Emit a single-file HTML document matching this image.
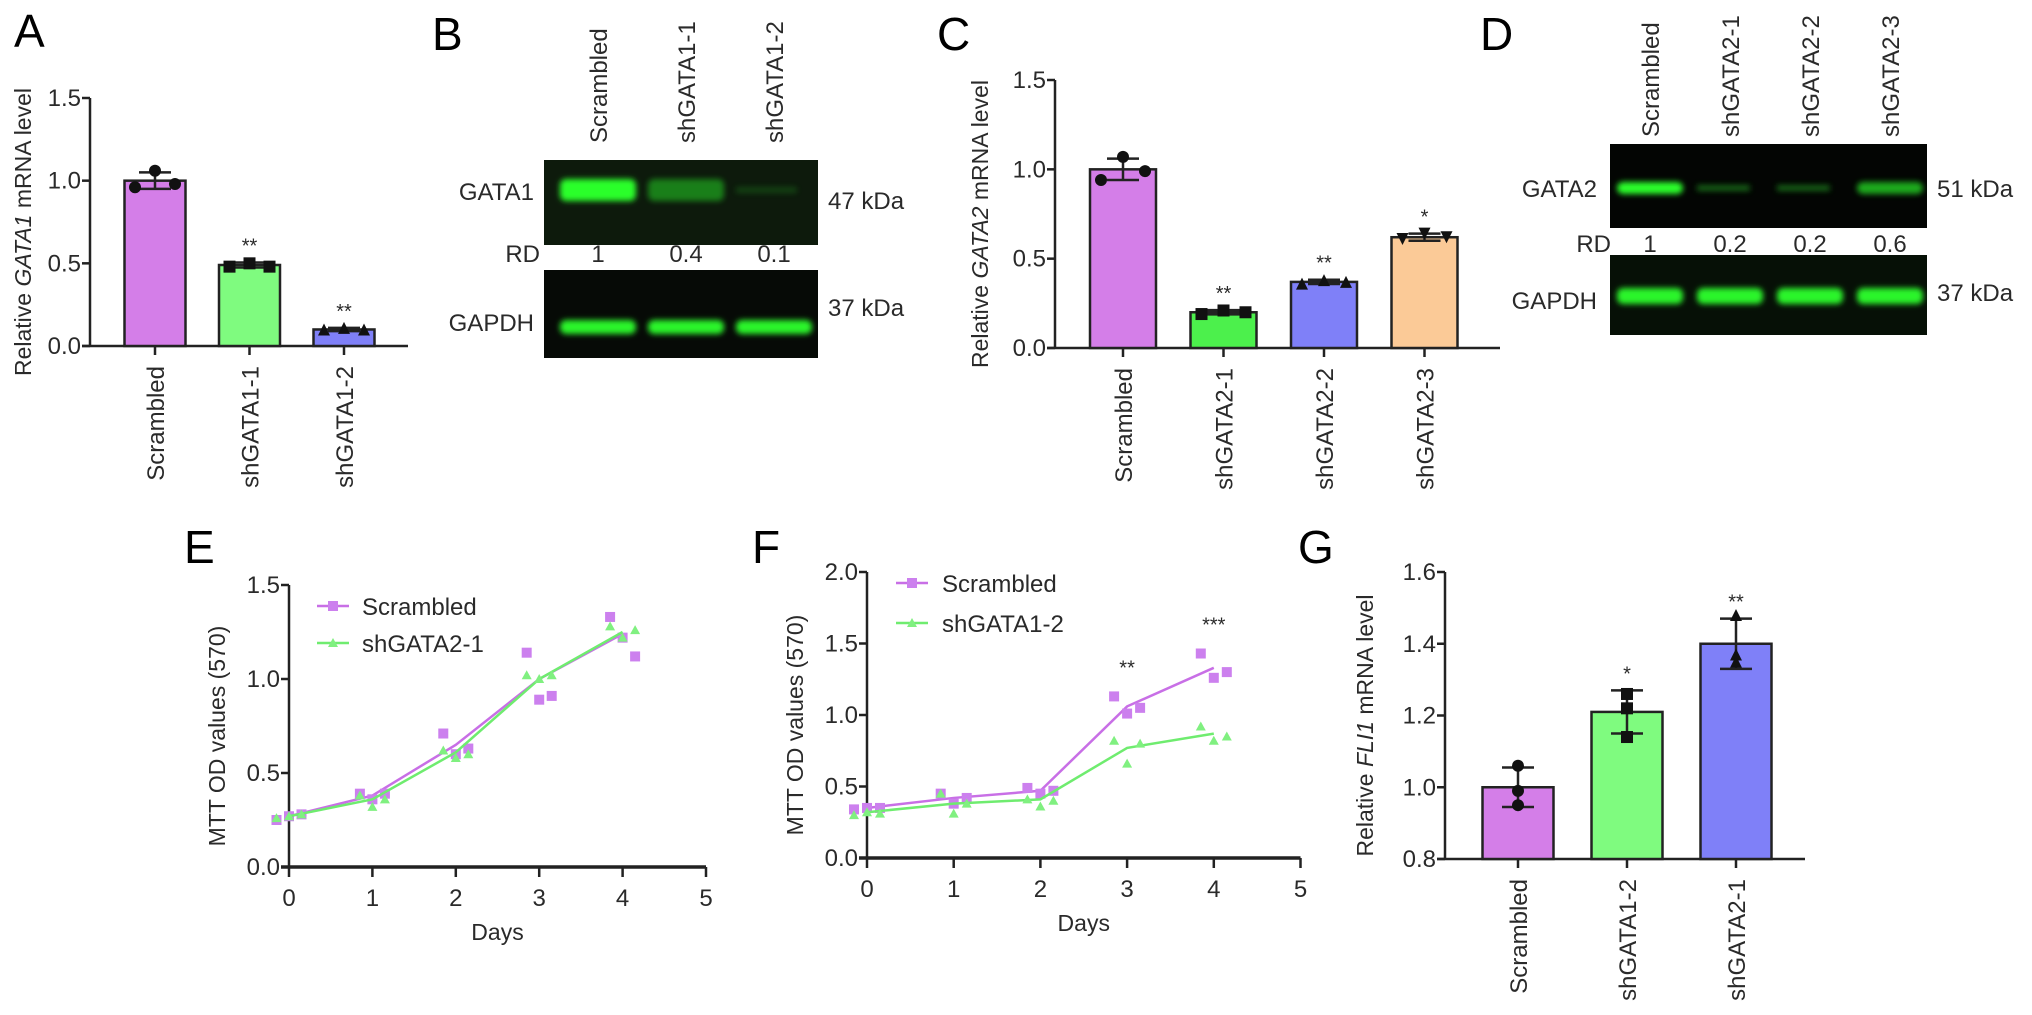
<!DOCTYPE html>
<html><head><meta charset="utf-8"><style>
html,body{margin:0;padding:0;background:#fff;}
svg{display:block;font-family:"Liberation Sans",Arial,sans-serif;}
</style></head><body>
<svg id="fig" width="2032" height="1015" viewBox="0 0 2032 1015" xmlns="http://www.w3.org/2000/svg">
<defs>
<filter id="blur2" x="-20%" y="-100%" width="140%" height="300%"><feGaussianBlur stdDeviation="3"/></filter>
</defs>
<g id="root"></g>
</svg>
<script>
// ===== Panel A data =====
const A_categories = ["Scrambled","shGATA1-1","shGATA1-2"];
const A_values = [1.0, 0.49, 0.10];
const A_errors = [0.05, 0.015, 0.01];
const A_points = [[0.96,1.06,0.98],[0.48,0.50,0.48],[0.10,0.11,0.10]];
const A_stars = ["","**","**"];
const A_ticks = [0.0,0.5,1.0,1.5];
const A_tickLabels = ["0.0","0.5","1.0","1.5"];
// ===== Panel C data =====
const C_categories = ["Scrambled","shGATA2-1","shGATA2-2","shGATA2-3"];
const C_values = [1.0, 0.20, 0.37, 0.62];
const C_errors = [0.06, 0.012, 0.012, 0.02];
const C_points = [[0.94,1.07,0.99],[0.19,0.21,0.20],[0.36,0.38,0.37],[0.61,0.64,0.62]];
const C_stars = ["","**","**","*"];
const C_ticks = [0.0,0.5,1.0,1.5];
const C_tickLabels = ["0.0","0.5","1.0","1.5"];
// ===== Panel G data =====
const G_categories = ["Scrambled","shGATA1-2","shGATA2-1"];
const G_values = [1.0, 1.21, 1.40];
const G_errors = [0.055, 0.06, 0.07];
const G_points = [[1.06,0.99,0.95],[1.26,1.22,1.14],[1.48,1.37,1.35]];
const G_stars = ["","*","**"];
const G_ticks = [0.8,1.0,1.2,1.4,1.6];
const G_tickLabels = ["0.8","1.0","1.2","1.4","1.6"];
// ===== Panel E data =====
const E_days = [0,1,2,3,4];
const E_scrMeans = [0.27,0.38,0.65,1.00,1.24];
const E_scrPoints = [[0.25,0.27,0.28],[0.39,0.36,0.39],[0.71,0.60,0.63],[1.14,0.89,0.91],[1.33,1.22,1.12]];
const E_shMeans = [0.27,0.36,0.61,1.00,1.25];
const E_shPoints = [[0.26,0.27,0.28],[0.38,0.32,0.36],[0.62,0.58,0.60],[1.02,1.00,1.02],[1.28,1.22,1.26]];
const E_xTicks = [0,1,2,3,4,5];
const E_yTicks = [0.0,0.5,1.0,1.5];
const E_yTickLabels = ["0.0","0.5","1.0","1.5"];
// ===== Panel F data =====
const F_days = [0,1,2,3,4];
const F_scrMeans = [0.35,0.42,0.47,1.06,1.33];
const F_scrPoints = [[0.34,0.35,0.35],[0.45,0.38,0.42],[0.49,0.45,0.47],[1.13,1.01,1.05],[1.43,1.26,1.30]];
const F_shMeans = [0.32,0.38,0.41,0.77,0.87];
const F_shPoints = [[0.30,0.32,0.31],[0.45,0.31,0.38],[0.41,0.36,0.40],[0.82,0.66,0.80],[0.92,0.82,0.85]];
const F_stars = ["","","","**","***"];
const F_xTicks = [0,1,2,3,4,5];
const F_yTicks = [0.0,0.5,1.0,1.5,2.0];
const F_yTickLabels = ["0.0","0.5","1.0","1.5","2.0"];
// ===== Blot data =====
const B_lanes = ["Scrambled","shGATA1-1","shGATA1-2"];
const B_rd = ["1","0.4","0.1"];
const B_bandTop = [1.0,0.4,0.1];
const D_lanes = ["Scrambled","shGATA2-1","shGATA2-2","shGATA2-3"];
const D_rd = ["1","0.2","0.2","0.6"];
const D_bandTop = [1.0,0.2,0.2,0.6];

const NS="http://www.w3.org/2000/svg";
const root=document.getElementById('root');
const TXT='#2a2a2a';
function mk(tag,attrs,parent,text){const e=document.createElementNS(NS,tag);for(const k in attrs)e.setAttribute(k,attrs[k]);if(text!==undefined)e.textContent=text;(parent||root).appendChild(e);return e;}
function grp(name,parent){const g=mk('g',{},parent);


return g;}
function label(t,x,y){const e=mk('text',{x:x,y:y,'font-size':46,fill:'#000'},root,t);


return e;}

function barChart(o){
  const g=grp(o.name);
  const ys=v=>o.y0-(v-o.min)/(o.max-o.min)*(o.y0-o.yTop);
  const xs=i=>o.first+i*o.step;
  const axis=grp(o.name+'-axes',g);
  mk('line',{x1:o.axisX,y1:o.yTop,x2:o.axisX,y2:o.y0,stroke:'#222','stroke-width':2.5},axis);
  mk('line',{x1:o.axisX-8,y1:o.y0,x2:o.axisEnd,y2:o.y0,stroke:'#222','stroke-width':2.5},axis);
  o.ticks.forEach((t,k)=>{const y=ys(t);
    mk('line',{x1:o.axisX-8,y1:y,x2:o.axisX,y2:y,stroke:'#222','stroke-width':2.5},axis);
    const tl=mk('text',{x:o.axisX-9,y:y+8,'font-size':24,'text-anchor':'end',fill:TXT},axis,o.tickLabels[k]);
    
    
  });
  const yt=mk('text',{transform:`translate(${o.titleX+8},${(o.yTop+o.y0)/2+10}) rotate(-90)`,'font-size':23,'text-anchor':'middle',fill:TXT},g);
  
  
  mk('tspan',{},yt,'Relative ');mk('tspan',{'font-style':'italic'},yt,o.gene);mk('tspan',{},yt,' mRNA level');
  o.cats.forEach((c,i)=>{
    const cx=xs(i),top=ys(o.vals[i]);
    const b=mk('rect',{x:cx-o.bw/2,y:top,width:o.bw,height:o.y0-top,fill:o.colors[i],stroke:'#222','stroke-width':2.5},g);
    
    
    const e1=ys(o.vals[i]+o.errs[i]),e2=ys(o.vals[i]-o.errs[i]);
    mk('line',{x1:cx,y1:e1,x2:cx,y2:e2,stroke:'#222','stroke-width':2.5},g);
    mk('line',{x1:cx-16,y1:e1,x2:cx+16,y2:e1,stroke:'#222','stroke-width':2.5},g);
    mk('line',{x1:cx-16,y1:e2,x2:cx+16,y2:e2,stroke:'#222','stroke-width':2.5},g);
    o.pts[i].forEach((p,j)=>{const px=cx+(j-1)*o.spread,py=ys(p);
      let m;const r=6;
      if(o.shapes[i]==='c') m=mk('circle',{cx:px,cy:py,r:r,fill:'#111'},g);
      else if(o.shapes[i]==='s') m=mk('rect',{x:px-r,y:py-r,width:2*r,height:2*r,fill:'#111'},g);
      else if(o.shapes[i]==='v') m=mk('path',{d:`M${px-r},${py-r}L${px+r},${py-r}L${px},${py+r}Z`,fill:'#111'},g);
      else m=mk('path',{d:`M${px-r},${py+r}L${px+r},${py+r}L${px},${py-r}Z`,fill:'#111'},g);
      
      
    });
    if(o.stars[i]){const s=mk('text',{x:cx,y:e1-10,'font-size':20,'text-anchor':'middle',fill:TXT},g,o.stars[i]);
      
      }
    mk('line',{x1:cx,y1:o.y0,x2:cx,y2:o.y0+9,stroke:'#222','stroke-width':2.5},g);
    const xl=mk('text',{transform:`translate(${cx+9},${o.y0+20}) rotate(-90)`,'font-size':24,'text-anchor':'end',fill:TXT},g,c);
    
    
  });
}

barChart({name:'chart-a',axisX:90,axisEnd:408,yTop:98,y0:346,min:0,max:1.5,first:155,step:94.5,bw:61,spread:20,titleX:23,gene:'GATA1',
  ticks:A_ticks,tickLabels:A_tickLabels,cats:A_categories,vals:A_values,errs:A_errors,pts:A_points,stars:A_stars,
  colors:['#d47ee8','#7ffb7f','#7f80f8'],shapes:['c','s','^']});
barChart({name:'chart-c',axisX:1055,axisEnd:1500,yTop:80,y0:348,min:0,max:1.5,first:1123,step:100.5,bw:66,spread:22,titleX:980,gene:'GATA2',
  ticks:C_ticks,tickLabels:C_tickLabels,cats:C_categories,vals:C_values,errs:C_errors,pts:C_points,stars:C_stars,
  colors:['#d47ee8','#4cf04c','#7f80f8','#fbca97'],shapes:['c','s','^','v']});
barChart({name:'chart-g',axisX:1445,axisEnd:1805,yTop:572,y0:859,min:0.8,max:1.6,first:1518,step:109,bw:71,spread:0,titleX:1365,gene:'FLI1',
  ticks:G_ticks,tickLabels:G_tickLabels,cats:G_categories,vals:G_values,errs:G_errors,pts:G_points,stars:G_stars,
  colors:['#d47ee8','#7ffb7f','#7f80f8'],shapes:['c','s','^']});

function lineChart(o){
  const g=grp(o.name);
  const xs=d=>o.axisX+d*o.dayW;
  const ys=v=>o.y0-(v/o.max)*(o.y0-o.yTop);
  const ax=grp(o.name+'-axes',g);
  mk('line',{x1:o.axisX,y1:o.yTop,x2:o.axisX,y2:o.y0,stroke:'#222','stroke-width':2.5},ax);
  mk('line',{x1:o.axisX-8,y1:o.y0,x2:xs(5),y2:o.y0,stroke:'#222','stroke-width':3.5},ax);
  o.yTicks.forEach((t,k)=>{const y=ys(t);
    mk('line',{x1:o.axisX-8,y1:y,x2:o.axisX,y2:y,stroke:'#222','stroke-width':2.5},ax);
    const tl=mk('text',{x:o.axisX-9,y:y+8,'font-size':24,'text-anchor':'end',fill:TXT},ax,o.yLabels[k]);
    
    });
  o.xTicks.forEach(t=>{const x=xs(t);
    mk('line',{x1:x,y1:o.y0,x2:x,y2:o.y0+10,stroke:'#222','stroke-width':2.5},ax);
    const tl=mk('text',{x:x,y:o.y0+39,'font-size':24,'text-anchor':'middle',fill:TXT},ax,String(t));
    
    });
  const yt=mk('text',{transform:`translate(${o.titleX+8},${(o.yTop+o.y0)/2+10}) rotate(-90)`,'font-size':23,'text-anchor':'middle',fill:TXT},g,'MTT OD values (570)');
  
  
  const xt=mk('text',{x:xs(2.5),y:o.y0+73,'font-size':23,'text-anchor':'middle',fill:TXT},g,'Days');
  
  
  const series=[{m:o.scrMeans,p:o.scrPoints,c:'#c86fe6',pc:'#cc80ee',sh:'s',n:'Scrambled'},{m:o.shMeans,p:o.shPoints,c:'#6fec6f',pc:'#80f080',sh:'^',n:o.shName}];
  series.forEach((s,si)=>{
    const sg=grp('series-'+s.n.toLowerCase(),g);
    const d=o.days.map((dd,i)=>(i?'L':'M')+xs(dd)+','+ys(s.m[i])).join('');
    mk('path',{d:d,fill:'none',stroke:s.c,'stroke-width':2.5},sg);
    o.days.forEach((dd,i)=>s.p[i].forEach((v,j)=>{const px=xs(dd+(j-1)*0.15),py=ys(v);let m;
      if(s.sh==='s') m=mk('rect',{x:px-5,y:py-5,width:10,height:10,fill:s.pc},sg);
      else m=mk('path',{d:`M${px-5},${py+4}L${px+5},${py+4}L${px},${py-5}Z`,fill:s.pc},sg);
      
      }));
    const ly=o.legY+si*o.legGap;
    const lg=grp('legend-entry',g);
    mk('line',{x1:o.legX-16,y1:ly,x2:o.legX+16,y2:ly,stroke:s.c,'stroke-width':2.5},lg);
    if(s.sh==='s') mk('rect',{x:o.legX-5,y:ly-5,width:10,height:10,fill:s.pc},lg);
    else mk('path',{d:`M${o.legX-5},${ly+4}L${o.legX+5},${ly+4}L${o.legX},${ly-5}Z`,fill:s.pc},lg);
    mk('text',{x:o.legTextX,y:ly+9,'font-size':24,fill:TXT},lg,s.n);
  });
  if(o.stars) o.days.forEach((dd,i)=>{if(o.stars[i]){const s=mk('text',{x:xs(dd),y:ys(o.scrPoints[i].reduce((a,b)=>Math.max(a,b)))-22,'font-size':20,'text-anchor':'middle',fill:TXT},g,o.stars[i]);
    
    }});
}
lineChart({name:'chart-e',axisX:289,dayW:83.4,y0:867,yTop:585,max:1.5,titleX:217,legX:333,legTextX:362,legY:606,legGap:37,shName:'shGATA2-1',
  days:E_days,scrMeans:E_scrMeans,scrPoints:E_scrPoints,shMeans:E_shMeans,shPoints:E_shPoints,xTicks:E_xTicks,yTicks:E_yTicks,yLabels:E_yTickLabels});
lineChart({name:'chart-f',axisX:867,dayW:86.7,y0:858,yTop:572,max:2.0,titleX:795,legX:912,legTextX:942,legY:583,legGap:40,shName:'shGATA1-2',stars:F_stars,
  days:F_days,scrMeans:F_scrMeans,scrPoints:F_scrPoints,shMeans:F_shMeans,shPoints:F_shPoints,xTicks:F_xTicks,yTicks:F_yTicks,yLabels:F_yTickLabels});

function blot(o){
  const g=grp(o.name);
  o.lanes.forEach((l,i)=>{const x=o.laneX(i);
    const t=mk('text',{transform:`translate(${x+9},${o.hdrBottom}) rotate(-90)`,'font-size':24,fill:TXT},g,l);
    
    
    const r=mk('text',{x:x,y:o.rdY,'font-size':24,'text-anchor':'middle',fill:TXT},g,o.rd[i]);
    
    
  });
  const b1=mk('rect',{x:o.x,y:o.y1,width:o.w,height:o.h1,fill:o.bg1},g);
  
  
  const b2=mk('rect',{x:o.x,y:o.y2,width:o.w,height:o.h2,fill:o.bg2},g);
  
  
  o.lanes.forEach((l,i)=>{const x=o.laneX(i);const bw=o.bandW;
    const a=o.band[i];
    if(a>0.3) mk('rect',{x:x-bw/2,y:o.band1Y-o.bh1/2,width:bw,height:o.bh1,rx:6,fill:'#2cff2c',opacity:Math.min(1,a*1.1),filter:'url(#blur2)'},g);
    else mk('rect',{x:x-bw/2,y:o.band1Y-3,width:bw*0.8,height:6,fill:'#20a020',opacity:a*3,filter:'url(#blur2)'},g);
    mk('rect',{x:x-bw/2,y:o.band2Y-o.bh2/2,width:bw,height:o.bh2,rx:6,fill:'#2cf52c',filter:'url(#blur2)'},g);
  });
  [['n1',o.nameX,o.n1Y,'end',o.target],['n2',o.nameX,o.n2Y,'end','GAPDH'],['k1',o.x+o.w+10,o.k1Y,'start',o.kda1],['k2',o.x+o.w+10,o.k2Y,'start','37 kDa'],['rd',o.rdLabX,o.rdY,'end','RD']].forEach(q=>{
    const t=mk('text',{x:q[1],y:q[2],'font-size':24,'text-anchor':q[3],fill:TXT},g,q[4]);
    
    
  });
}
blot({name:'western-blot-b',lanes:B_lanes,rd:B_rd,band:B_bandTop,laneX:i=>598+i*88,hdrBottom:143,x:544,y1:160,w:274,h1:85,y2:270,h2:88,bg1:'#0d1a0c',bg2:'#060a06',
  bandW:76,band1Y:190,bh1:22,band2Y:327,bh2:14,rdY:262,rdLabX:540,nameX:534,n1Y:200,n2Y:331,k1Y:209,k2Y:316,target:'GATA1',kda1:'47 kDa'});
blot({name:'western-blot-d',lanes:D_lanes,rd:D_rd,band:D_bandTop,laneX:i=>1650+i*80,hdrBottom:137,x:1610,y1:144,w:317,h1:84,y2:255,h2:80,bg1:'#030503',bg2:'#061006',
  bandW:66,band1Y:188,bh1:12,band2Y:296,bh2:16,rdY:252,rdLabX:1611,nameX:1597,n1Y:197,n2Y:309,k1Y:197,k2Y:301,target:'GATA2',kda1:'51 kDa'});

label('A',14,47);label('B',432,50);label('C',937,50);label('D',1480,50);
label('E',184,563);label('F',752,563);label('G',1298,563);
</script>
</body></html>
